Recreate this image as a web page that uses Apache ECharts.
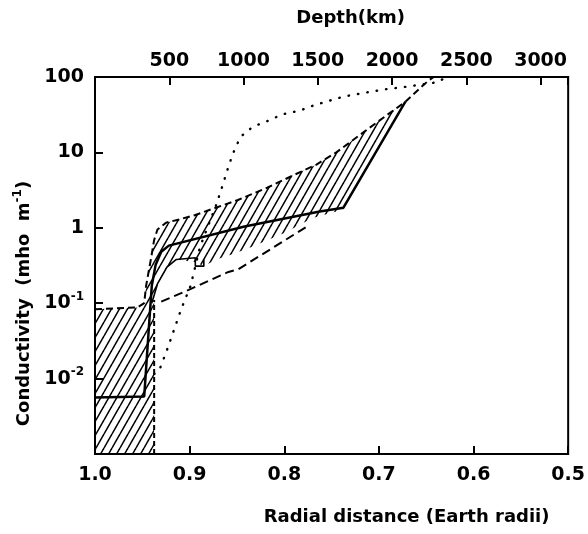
<!DOCTYPE html>
<html>
<head>
<meta charset="utf-8">
<script src="https://cdn.jsdelivr.net/npm/echarts@6/dist/echarts.min.js"></script>
<style>
html,body{margin:0;padding:0;background:#fff}
#chart{width:588px;height:534px}
</style>
</head>
<body>
<div id="chart"></div>
<script>
// radial distance in earth radii, conductivity in mho/m
var earthRadiusKm = 6371;
var depthTicks = [500, 1000, 1500, 2000, 2500, 3000];
var radiusTicks = [1.0, 0.9, 0.8, 0.7, 0.6, 0.5];

// upper dashed envelope
var upperR = [1.0, 0.955, 0.948, 0.946, 0.941, 0.9375, 0.934, 0.925, 0.911, 0.894, 0.849, 0.818, 0.79, 0.766, 0.745, 0.716, 0.695, 0.672, 0.648, 0.642];
var upperS = [0.083, 0.088, 0.1, 0.17, 0.38, 0.69, 0.95, 1.17, 1.29, 1.48, 2.34, 3.4, 5.0, 6.9, 10, 18.6, 29, 47, 89, 100];

// solid model
var meanR = [1.0, 0.948, 0.943, 0.94, 0.936, 0.93, 0.922, 0.842, 0.7625, 0.7375, 0.672];
var meanS = [0.0056, 0.0058, 0.049, 0.17, 0.32, 0.48, 0.58, 1.04, 1.64, 1.85, 47];

// thin solid lower edge with the little step
var lowR = [0.94, 0.934, 0.924, 0.914, 0.894, 0.894, 0.885, 0.885];
var lowS = [0.1, 0.18, 0.30, 0.38, 0.40, 0.31, 0.31, 0.38];

// long dashed model
var dashR = [0.93, 0.901, 0.859, 0.849, 0.776];
var dashS = [0.105, 0.15, 0.26, 0.28, 1.04];

// vertical dashed edge
var edgeR = [0.9375, 0.9375];
var edgeS = [0.001, 0.11];

// dotted model
var dotR = [0.9375, 0.932, 0.925, 0.919, 0.909, 0.899, 0.889, 0.872, 0.865, 0.859, 0.854, 0.849, 0.844, 0.833, 0.821, 0.802, 0.783, 0.769, 0.7375, 0.696, 0.672, 0.639, 0.628];
var dotS = [0.0115, 0.013, 0.022, 0.036, 0.083, 0.17, 0.56, 2.0, 3.7, 6.5, 9.8, 13.5, 17, 22, 25, 32, 36, 42, 55, 68, 74, 85, 100];

// hatched region outline
var hatchR = [1.0, 0.955, 0.948, 0.946, 0.941, 0.9375, 0.934, 0.925, 0.911, 0.894, 0.849, 0.818, 0.79, 0.766, 0.745, 0.716, 0.695, 0.672,
  0.7375, 0.77, 0.80, 0.836, 0.854, 0.872, 0.885, 0.894, 0.914, 0.924, 0.934, 0.9375, 0.9375, 1.0];
var hatchS = [0.083, 0.088, 0.1, 0.17, 0.38, 0.69, 0.95, 1.17, 1.29, 1.48, 2.34, 3.4, 5.0, 6.9, 10, 18.6, 29, 47,
  1.75, 1.35, 0.85, 0.55, 0.45, 0.38, 0.31, 0.35, 0.38, 0.30, 0.18, 0.1, 0.001, 0.001];

function zip(a, b){ return a.map(function(v, i){ return [v, b[i]]; }); }

// hatch tile
function hatchTile(){
  var w = 8, h = 14;
  var c = document.createElement('canvas');
  c.width = w; c.height = h;
  var ctx = c.getContext('2d');
  ctx.strokeStyle = '#000';
  ctx.lineWidth = 1.5;
  [[-w,0],[0,0],[w,0],[0,-h],[0,h]].forEach(function(o){
    ctx.beginPath();
    ctx.moveTo(o[0], h + o[1]);
    ctx.lineTo(w + o[0], o[1]);
    ctx.stroke();
  });
  return c;
}

var font = 'DejaVu Sans';
var labelStyle = {fontFamily: font, fontSize: 19, fontWeight: 'bold', color: '#000'};
var supStyle = {fontFamily: font, fontSize: 12, fontWeight: 'bold', color: '#000', padding: [0, 0, 13, 0]};

function lineSeries(r, s, type, width, dash){
  return {
    type: 'line', data: zip(r, s), showSymbol: false, silent: true,
    lineStyle: {color: '#000', width: width, type: dash || type, cap: type === 'dotted' ? 'round' : 'butt'},
    z: 3
  };
}

var chart = echarts.init(document.getElementById('chart'));
var pattern = {image: hatchTile(), repeat: 'repeat'};
var hatchPts = zip(hatchR, hatchS);

chart.setOption({
  animation: false,
  grid: {left: 95, right: 16, top: 77, bottom: 80, show: true, borderColor: '#000', borderWidth: 2},
  xAxis: [{
    type: 'value', min: 0.5, max: 1.0, interval: 0.1, inverse: true,
    name: 'Radial distance (Earth radii)', nameLocation: 'middle', nameGap: 54,
    nameTextStyle: {fontFamily: font, fontSize: 18, fontWeight: 'bold', color: '#000', padding: [0, 0, 0, 150]},
    axisLine: {lineStyle: {color: '#000', width: 2}},
    axisTick: {inside: true, length: 8, lineStyle: {color: '#000', width: 2}},
    axisLabel: Object.assign({margin: 12, formatter: function(v){ return v.toFixed(1); }}, labelStyle),
    splitLine: {show: false}
  }, {
    type: 'value', position: 'top', min: 0, max: 0.5 * earthRadiusKm, interval: 500,
    name: 'Depth(km)', nameLocation: 'middle', nameGap: 50,
    nameTextStyle: {fontFamily: font, fontSize: 18, fontWeight: 'bold', color: '#000', padding: [0, 0, 0, 38]},
    axisLine: {lineStyle: {color: '#000', width: 2}},
    axisTick: {inside: true, length: 8, lineStyle: {color: '#000', width: 2}},
    axisLabel: Object.assign({margin: 6, formatter: function(v){ return depthTicks.indexOf(v) >= 0 ? String(v) : ''; }}, labelStyle),
    splitLine: {show: false}
  }],
  yAxis: {
    type: 'log', logBase: 10, min: 0.001, max: 100,
    name: 'Conductivity  (mho  m{sup|-1})', nameLocation: 'middle', nameGap: 56,
    nameTextStyle: {fontFamily: font, fontSize: 18, fontWeight: 'bold', color: '#000', padding: [0, 76, 0, 0],
      rich: {sup: {fontFamily: font, fontSize: 12, fontWeight: 'bold', color: '#000', padding: [0, 0, 12, 0]}}},
    axisLine: {lineStyle: {color: '#000', width: 2}},
    axisTick: {inside: true, length: 8, lineStyle: {color: '#000', width: 2}},
    axisLabel: Object.assign({
      margin: 11,
      formatter: function(v){
        var e = Math.round(Math.log10(v));
        if (e >= 0) return String(Math.pow(10, e));
        if (e <= -3) return '';
        return '10{sup|' + e + '}';
      },
      rich: {sup: supStyle}
    }, labelStyle),
    splitLine: {show: false}
  },
  series: [
    {
      type: 'custom', silent: true, clip: true, z: 2,
      data: [0],
      renderItem: function(params, api){
        var pts = hatchPts.map(function(p){ return api.coord(p); });
        return {type: 'polygon', shape: {points: pts}, style: {fill: pattern, stroke: null}};
      }
    },
    lineSeries(upperR, upperS, 'dashed', 2, [7, 4]),
    lineSeries(meanR, meanS, 'solid', 2.5),
    lineSeries(lowR, lowS, 'solid', 1.6),
    lineSeries(dashR, dashS, 'dashed', 2, [9, 5]),
    lineSeries(edgeR, edgeS, 'dashed', 2, [5, 3]),
    lineSeries(dotR, dotS, 'dotted', 2.4, [0.5, 9])
  ]
});
</script>
</body>
</html>
